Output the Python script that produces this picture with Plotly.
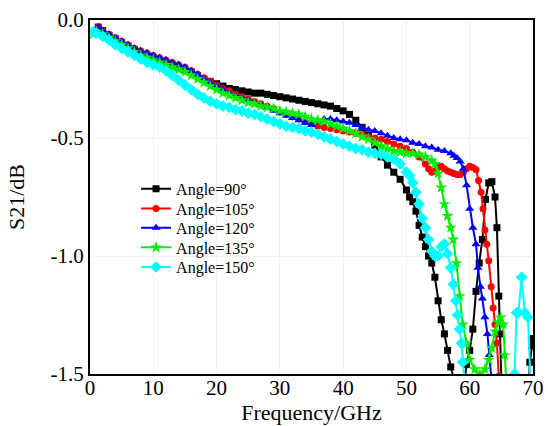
import plotly.graph_objects as go

# ---- data ----
f_90 = [0.7, 1.3, 2, 3, 4, 5, 6, 7, 8, 9, 10, 11, 12, 13, 14, 15, 16, 17, 18, 19, 20,
        21, 22, 23, 24, 25, 26, 27, 28, 29, 30, 31, 32, 33, 34, 35, 36, 37, 38, 39, 40,
        41, 42, 43, 44, 45, 46, 47, 48, 49, 50, 50.5, 51, 51.5, 52, 52.5, 53, 53.5, 54,
        54.5, 55, 55.5, 56, 56.5, 57, 57.5, 58.5, 59.5, 60, 60.5, 61, 61.5, 62, 62.5, 63,
        63.5, 64, 64.3, 64.6, 64.8, 65, 66, 69, 69.5, 69.8, 70]
s_90 = [-0.05, -0.03, -0.045, -0.065, -0.08, -0.095, -0.11, -0.125, -0.14, -0.15, -0.16,
        -0.17, -0.18, -0.19, -0.2, -0.21, -0.22, -0.235, -0.25, -0.26, -0.27,
        -0.28, -0.29, -0.295, -0.3, -0.305, -0.31, -0.31, -0.315, -0.32, -0.325,
        -0.33, -0.335, -0.34, -0.345, -0.35, -0.355, -0.36, -0.365, -0.375, -0.385,
        -0.4, -0.425, -0.455, -0.49, -0.53, -0.58, -0.615, -0.645, -0.675, -0.72, -0.75,
        -0.77, -0.81, -0.87, -0.92, -0.96, -1.0, -1.03, -1.09, -1.19, -1.27, -1.33, -1.4,
        -1.47, -1.52, -1.7, -1.46, -1.4, -1.31, -1.15, -1.03, -0.93, -0.76, -0.69,
        -0.685, -0.75, -0.88, -1.17, -1.33, -1.52, -1.8, -1.8, -1.45, -1.38, -1.35]

f_105 = [0.7, 1.3, 2, 3, 4, 5, 6, 7, 8, 9, 10, 11, 12, 13, 14, 15, 16, 17, 18, 19, 20,
         21, 22, 23, 24, 25, 26, 27, 28, 29, 30, 31, 32, 33, 34, 35, 36, 37, 38, 39, 40,
         41, 42, 43, 44, 45, 46, 47, 48, 49, 50, 51, 52, 53, 53.5, 54, 54.5, 55, 55.5, 56,
         56.5, 57, 57.5, 58, 58.5, 59, 59.5, 60, 60.5, 61, 61.4, 61.8, 62.1, 62.4, 62.7,
         63.0, 63.4, 63.7, 64.0, 64.3, 64.6, 65.0]
s_105 = [-0.05, -0.03, -0.045, -0.06, -0.075, -0.09, -0.105, -0.12, -0.13, -0.14, -0.15,
         -0.16, -0.17, -0.18, -0.19, -0.2, -0.215, -0.23, -0.245, -0.26, -0.275,
         -0.29, -0.3, -0.315, -0.325, -0.335, -0.345, -0.355, -0.365, -0.375, -0.39,
         -0.4, -0.41, -0.42, -0.43, -0.44, -0.45, -0.455, -0.46, -0.465, -0.47,
         -0.475, -0.48, -0.485, -0.495, -0.5, -0.505, -0.515, -0.525, -0.535, -0.545,
         -0.56, -0.58, -0.61, -0.63, -0.645, -0.64, -0.625, -0.62, -0.63, -0.64, -0.645,
         -0.65, -0.655, -0.655, -0.645, -0.63, -0.62, -0.625, -0.635, -0.68, -0.73, -0.8,
         -0.89, -0.95, -1.02, -1.13, -1.22, -1.29, -1.37, -1.51, -1.7]

f_120 = [0.7, 1.3, 2, 3, 4, 5, 6, 7, 8, 9, 10, 11, 12, 13, 14, 15, 16, 17, 18, 19, 20,
         21, 22, 23, 24, 25, 26, 27, 28, 29, 30, 31, 32, 33, 34, 35, 36, 37, 38, 39, 40,
         41, 42, 43, 44, 45, 46, 47, 48, 49, 50, 51, 52, 53, 54, 55, 56, 57, 57.5, 58,
         58.5, 59, 59.5, 60, 60.5, 61, 61.3, 61.7, 62, 62.4, 62.8, 63.1, 63.4, 64]
s_120 = [-0.05, -0.03, -0.045, -0.06, -0.075, -0.09, -0.105, -0.12, -0.13, -0.14, -0.15,
         -0.16, -0.17, -0.18, -0.19, -0.2, -0.215, -0.23, -0.25, -0.265, -0.28,
         -0.295, -0.31, -0.32, -0.33, -0.34, -0.35, -0.36, -0.37, -0.385, -0.395,
         -0.405, -0.415, -0.425, -0.435, -0.445, -0.43, -0.42, -0.42, -0.425, -0.43,
         -0.435, -0.445, -0.455, -0.465, -0.47, -0.48, -0.49, -0.5, -0.505, -0.51,
         -0.52, -0.525, -0.535, -0.54, -0.55, -0.555, -0.565, -0.575, -0.585,
         -0.6, -0.63, -0.7, -0.8, -0.88, -0.95, -1.05, -1.13, -1.18, -1.26, -1.33,
         -1.42, -1.51, -1.7]

f_135 = [0.5, 1, 2, 3, 4, 5, 6, 7, 8, 9, 10, 11, 12, 13, 14, 15, 16, 17, 18, 19, 20,
         21, 22, 23, 24, 25, 26, 27, 28, 29, 30, 31, 32, 33, 34, 35, 36, 37, 38, 39, 40,
         41, 42, 43, 44, 45, 46, 47, 48, 49, 50, 51, 52, 53, 54, 54.5, 55, 55.5, 56, 56.5,
         57, 57.4, 57.9, 58.4, 58.9, 59.5, 60.0, 60.8, 61.6, 62.4, 63.0, 63.5, 64.0, 64.5,
         64.9, 65.3, 65.5, 65.8, 66.5]
s_135 = [-0.06, -0.05, -0.06, -0.075, -0.09, -0.105, -0.12, -0.135, -0.15, -0.16, -0.17,
         -0.18, -0.19, -0.2, -0.21, -0.22, -0.235, -0.25, -0.265, -0.28, -0.295,
         -0.31, -0.32, -0.33, -0.34, -0.35, -0.355, -0.365, -0.37, -0.375, -0.385,
         -0.39, -0.395, -0.4, -0.41, -0.42, -0.425, -0.43, -0.44, -0.45, -0.46,
         -0.47, -0.48, -0.495, -0.505, -0.52, -0.535, -0.545, -0.555, -0.56, -0.565,
         -0.565, -0.57, -0.58, -0.595, -0.61, -0.65, -0.71, -0.78, -0.83,
         -0.88, -0.93, -1.03, -1.17, -1.29, -1.37, -1.44, -1.48, -1.5, -1.48, -1.44,
         -1.39, -1.32, -1.28, -1.26, -1.29, -1.42, -1.55, -1.8]

f_150 = [0.5, 1, 2, 3, 4, 5, 6, 7, 8, 9, 10, 11, 12, 13, 14, 15, 16, 17, 18, 19, 20,
         21, 22, 23, 24, 25, 26, 27, 28, 29, 30, 31, 32, 33, 34, 35, 36, 37, 38, 39, 40,
         41, 42, 43, 44, 45, 46, 47, 48, 49, 50, 50.5, 51, 51.5, 52, 52.5, 53, 53.5, 54,
         54.5, 55, 55.5, 56, 56.5, 57, 57.4, 57.8, 58.1, 58.4, 58.7, 58.9, 59.2, 60, 66.5,
         67.1, 67.4, 67.7, 68.2, 68.7, 69.2, 69.6, 70]
s_150 = [-0.05, -0.055, -0.07, -0.085, -0.105, -0.12, -0.135, -0.15, -0.165, -0.18, -0.19,
         -0.2, -0.215, -0.235, -0.255, -0.275, -0.295, -0.315, -0.33, -0.345, -0.355,
         -0.365, -0.37, -0.38, -0.385, -0.395, -0.4, -0.41, -0.42, -0.43, -0.44,
         -0.45, -0.455, -0.46, -0.47, -0.475, -0.485, -0.495, -0.505, -0.515, -0.525,
         -0.535, -0.545, -0.55, -0.56, -0.565, -0.57, -0.58, -0.59, -0.61, -0.645, -0.66,
         -0.69, -0.73, -0.78, -0.84, -0.88, -0.93, -0.98, -1.0, -1.0, -0.96, -0.95, -0.99,
         -1.05, -1.12, -1.19, -1.25, -1.31, -1.37, -1.45, -1.52, -1.8, -1.8,
         -1.5, -1.24, -1.24, -1.09, -1.24, -1.26, -1.55, -1.8]

names = ["Angle=90°", "Angle=105°", "Angle=120°", "Angle=135°", "Angle=150°"]
colors = ["#000000", "#ff0000", "#0000ff", "#00ee00", "#00ffff"]
symbols = ["square", "circle", "triangle-up", "star", "diamond"]
msizes = [7, 7, 8, 9, 9]
xs = [f_90, f_105, f_120, f_135, f_150]
ys = [s_90, s_105, s_120, s_135, s_150]

x_ticks = [0, 10, 20, 30, 40, 50, 60, 70]
y_ticks = [0.0, -0.5, -1.0, -1.5]
y_ticklabels = ["0.0", "-0.5", "-1.0", "-1.5"]

font_family = "Times New Roman"

# one legend box per entry so the row spacing matches the reference
legend_ids = ["legend", "legend2", "legend3", "legend4", "legend5"]
legend_tops = [0.571, 0.5155, 0.461, 0.4055, 0.350]

fig = go.Figure()
for name, c, sym, ms, x, y, lid in zip(names, colors, symbols, msizes, xs, ys, legend_ids):
    fig.add_trace(go.Scatter(
        x=x, y=y, name=name, mode="lines+markers", legend=lid,
        line=dict(color=c, width=2),
        marker=dict(symbol=sym, size=ms, color=c),
    ))

legend_layout = {}
for lid, top in zip(legend_ids, legend_tops):
    legend_layout[lid] = dict(
        x=0.104, y=top, xanchor="left", yanchor="top",
        font=dict(family=font_family, size=16, color="black"),
        bgcolor="rgba(0,0,0,0)", borderwidth=0,
    )

fig.update_layout(
    width=548, height=426,
    margin=dict(l=90, r=15, t=20, b=52),
    paper_bgcolor="white", plot_bgcolor="white",
    font=dict(family=font_family, size=20, color="black"),
    showlegend=True,
    **legend_layout,
)
fig.update_xaxes(
    range=[0, 70], tickvals=x_ticks, ticktext=[str(t) for t in x_ticks],
    showline=True, linecolor="black", linewidth=2, mirror=True,
    showgrid=True, gridcolor="#f1f1f1", gridwidth=1, zeroline=False,
    ticks="", ticklen=0, automargin=False, ticklabelstandoff=-6,
    title=dict(text="Frequency/GHz", standoff=4,
               font=dict(family=font_family, size=22)),
    tickfont=dict(family=font_family, size=21),
)
fig.update_yaxes(
    range=[-1.5, 0.0], tickvals=y_ticks, ticktext=y_ticklabels,
    showline=True, linecolor="black", linewidth=2, mirror=True,
    showgrid=True, gridcolor="#f1f1f1", gridwidth=1, zeroline=False,
    ticks="", ticklen=0, automargin=False,
    title=dict(text="S21/dB", standoff=20,
               font=dict(family=font_family, size=22)),
    tickfont=dict(family=font_family, size=21),
)

fig.write_html(
    "out.html",
    config={"displayModeBar": False},
    post_script="document.body.style.margin='0';document.body.style.overflow='hidden';",
)
